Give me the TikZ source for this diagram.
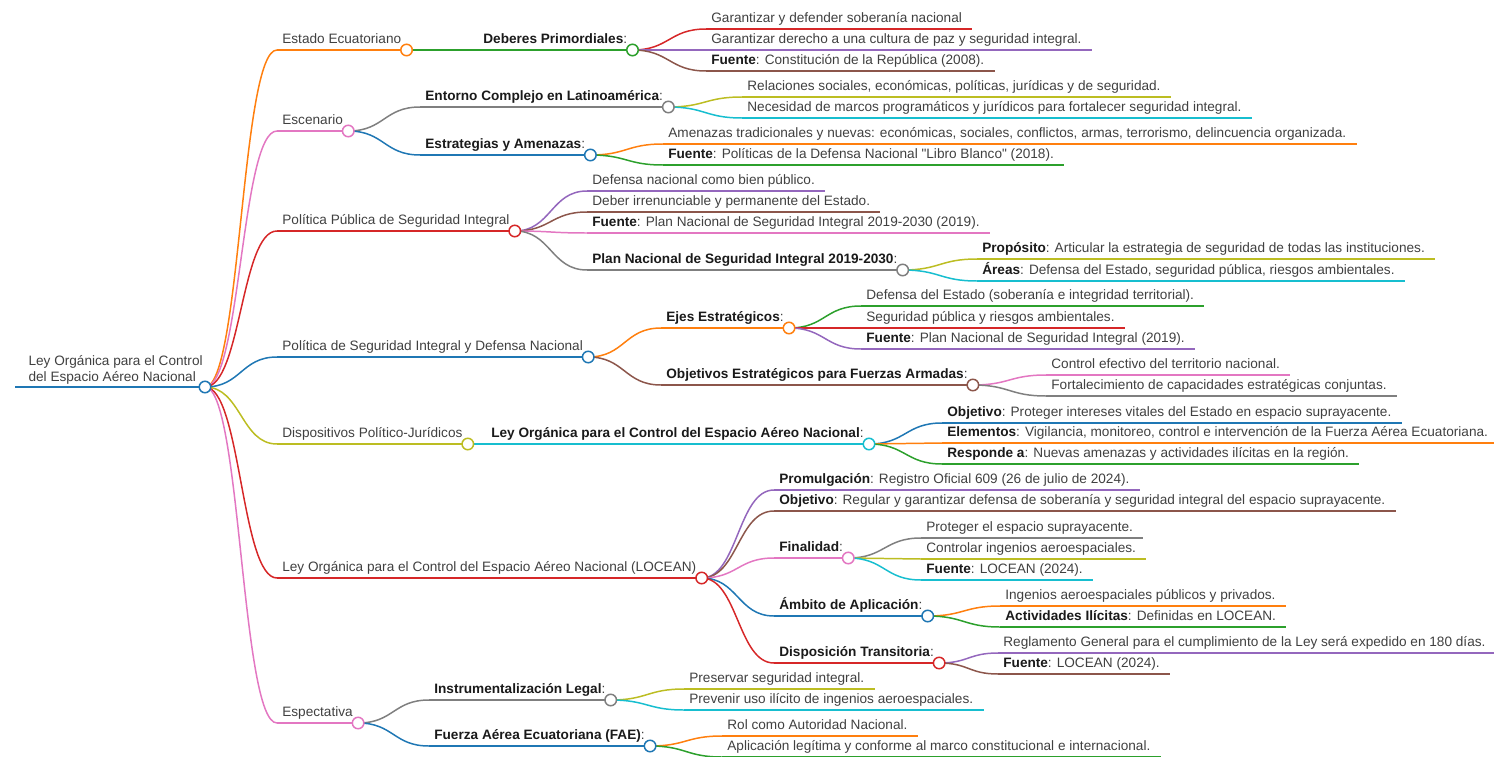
\documentclass[tikz,border=0pt]{standalone}
\usepackage{fontspec}
\setmainfont{Liberation Sans}
\usetikzlibrary{calc}
\definecolor{mmblue}{HTML}{1F77B4}
\definecolor{mmorange}{HTML}{FF7F0E}
\definecolor{mmgreen}{HTML}{2CA02C}
\definecolor{mmred}{HTML}{D62728}
\definecolor{mmpurple}{HTML}{9467BD}
\definecolor{mmbrown}{HTML}{8C564B}
\definecolor{mmpink}{HTML}{E377C2}
\definecolor{mmgray}{HTML}{7F7F7F}
\definecolor{mmolive}{HTML}{BCBD22}
\definecolor{mmcyan}{HTML}{17BECF}
\definecolor{txt}{HTML}{404040}
\definecolor{txtb}{HTML}{1A1A1A}
\newcommand{\mmfont}{\fontsize{7.75pt}{8.8pt}\selectfont}
\newcommand{\hd}[1]{\textcolor{txtb}{\textbf{#1}}}

\begin{document}
\begin{tikzpicture}[x=0.02cm, y=-0.02cm,
  mm/.style={font=\mmfont, text=txt, anchor=south west, inner xsep=0.1cm, inner ysep=0.05cm, text height=6.2pt, text depth=1.8pt},
  lnk/.style={draw=#1, line width=0.85pt},
  br/.style={mm, append after command={(\tikzlastnode.south west) edge[lnk=#1] (\tikzlastnode.south east)}},
  lf/.style={mm, append after command={(\tikzlastnode.south west) edge[lnk=#1] ([xshift=0.1cm]\tikzlastnode.south east)}},
  dot/.style={circle, draw=#1, fill=white, line width=0.85pt, minimum size=0.23cm, inner sep=0pt}]

\useasboundingbox (0,0) rectangle (1494,757);

%Root
\coordinate (rs) at (15,387);
\node[mm, anchor=south east, align=left, text height=, text depth=, inner xsep=0.04cm] (root) at (205,387) {Ley Orgánica para el Control\\del Espacio Aéreo Nacional};
\draw[lnk=mmblue] (rs) -- (root.south east);

%Level 1
\node[br=mmorange] (estado) at (277,50) {Estado Ecuatoriano};
\node[br=mmpink] (escen) at (277,131) {Escenario};
\node[br=mmred] (polpub) at (277,231) {Política Pública de Seguridad Integral};
\node[br=mmblue] (polseg) at (277,357) {Política de Seguridad Integral y Defensa Nacional};
\node[br=mmolive] (dispo) at (277,444) {Dispositivos Político-Jurídicos};
\node[br=mmred] (locean) at (277,578) {Ley Orgánica para el Control del Espacio Aéreo Nacional (LOCEAN)};
\node[br=mmpink] (espect) at (277,723) {Espectativa};

%Level 2
\node[br=mmgreen] (deber) at (478,50) {\hd{Deberes Primordiales}:};
\node[br=mmgray] (entorno) at (420,107) {\hd{Entorno Complejo en Latinoamérica}:};
\node[br=mmblue] (estrat) at (420,155) {\hd{Estrategias y Amenazas}:};
\node[lf=mmpurple] (pp1) at (587,191) {Defensa nacional como bien público.};
\node[lf=mmbrown] (pp2) at (587,212) {Deber irrenunciable y permanente del Estado.};
\node[lf=mmpink] (pp3) at (587,233) {\hd{Fuente}: Plan Nacional de Seguridad Integral 2019-2030 (2019).};
\node[br=mmgray] (plan) at (587,270) {\hd{Plan Nacional de Seguridad Integral 2019-2030}:};
\node[br=mmorange] (ejes) at (661,328) {\hd{Ejes Estratégicos}:};
\node[br=mmbrown] (objff) at (661,385) {\hd{Objetivos Estratégicos para Fuerzas Armadas}:};
\node[br=mmcyan] (ley) at (486,444) {\hd{Ley Orgánica para el Control del Espacio Aéreo Nacional}:};
\node[lf=mmpurple] (prom) at (774,490) {\hd{Promulgación}: Registro Oficial 609 (26 de julio de 2024).};
\node[lf=mmbrown] (objreg) at (774,511) {\hd{Objetivo}: Regular y garantizar defensa de soberanía y seguridad integral del espacio suprayacente.};
\node[br=mmpink] (final) at (774,558) {\hd{Finalidad}:};
\node[br=mmblue] (ambito) at (774,616) {\hd{Ámbito de Aplicación}:};
\node[br=mmred] (transit) at (774,663) {\hd{Disposición Transitoria}:};
\node[br=mmgray] (instr) at (429,700) {\hd{Instrumentalización Legal}:};
\node[br=mmblue] (fae) at (429,746) {\hd{Fuerza Aérea Ecuatoriana (FAE)}:};

%Level 3
\node[lf=mmred] (deb1) at (706,29) {Garantizar y defender soberanía nacional};
\node[lf=mmpurple] (deb2) at (706,50) {Garantizar derecho a una cultura de paz y seguridad integral.};
\node[lf=mmbrown] (deb3) at (706,71) {\hd{Fuente}: Constitución de la República (2008).};
\node[lf=mmolive] (ent1) at (742,97) {Relaciones sociales, económicas, políticas, jurídicas y de seguridad.};
\node[lf=mmcyan] (ent2) at (742,118) {Necesidad de marcos programáticos y jurídicos para fortalecer seguridad integral.};
\node[lf=mmorange] (est1) at (663,144) {Amenazas tradicionales y nuevas: económicas, sociales, conflictos, armas, terrorismo, delincuencia organizada.};
\node[lf=mmgreen] (est2) at (663,165) {\hd{Fuente}: Políticas de la Defensa Nacional \textquotedbl Libro Blanco\textquotedbl{} (2018).};
\node[lf=mmolive] (plan1) at (977,259) {\hd{Propósito}: Articular la estrategia de seguridad de todas las instituciones.};
\node[lf=mmcyan] (plan2) at (977,281) {\hd{Áreas}: Defensa del Estado, seguridad pública, riesgos ambientales.};
\node[lf=mmgreen] (eje1) at (861,306) {Defensa del Estado (soberanía e integridad territorial).};
\node[lf=mmred] (eje2) at (861,328) {Seguridad pública y riesgos ambientales.};
\node[lf=mmpurple] (eje3) at (861,349) {\hd{Fuente}: Plan Nacional de Seguridad Integral (2019).};
\node[lf=mmpink] (obj1) at (1046,375) {Control efectivo del territorio nacional.};
\node[lf=mmgray] (obj2) at (1046,396) {Fortalecimiento de capacidades estratégicas conjuntas.};
\node[lf=mmblue] (ley1) at (942,423) {\hd{Objetivo}: Proteger intereses vitales del Estado en espacio suprayacente.};
\node[lf=mmorange] (ley2) at (942,443) {\hd{Elementos}: Vigilancia, monitoreo, control e intervención de la Fuerza Aérea Ecuatoriana.};
\node[lf=mmgreen] (ley3) at (942,464) {\hd{Responde a}: Nuevas amenazas y actividades ilícitas en la región.};
\node[lf=mmgray] (fin1) at (921,538) {Proteger el espacio suprayacente.};
\node[lf=mmolive] (fin2) at (921,559) {Controlar ingenios aeroespaciales.};
\node[lf=mmcyan] (fin3) at (921,580) {\hd{Fuente}: LOCEAN (2024).};
\node[lf=mmorange] (amb1) at (1000,606) {Ingenios aeroespaciales públicos y privados.};
\node[lf=mmgreen] (amb2) at (1000,627) {\hd{Actividades Ilícitas}: Definidas en LOCEAN.};
\node[lf=mmpurple] (tra1) at (998,653) {Reglamento General para el cumplimiento de la Ley será expedido en 180 días.};
\node[lf=mmbrown] (tra2) at (998,674) {\hd{Fuente}: LOCEAN (2024).};
\node[lf=mmolive] (ins1) at (684,689) {Preservar seguridad integral.};
\node[lf=mmcyan] (ins2) at (684,710) {Prevenir uso ilícito de ingenios aeroespaciales.};
\node[lf=mmorange] (fae1) at (722,736) {Rol como Autoridad Nacional.};
\node[lf=mmgreen] (fae2) at (722,757) {Aplicación legítima y conforme al marco constitucional e internacional.};

%Links
\foreach \pa/\ch/\col in {root/estado/mmorange, root/escen/mmpink, root/polpub/mmred, root/polseg/mmblue, root/dispo/mmolive, root/locean/mmred, root/espect/mmpink,
  estado/deber/mmgreen, escen/entorno/mmgray, escen/estrat/mmblue, polpub/pp1/mmpurple, polpub/pp2/mmbrown, polpub/pp3/mmpink, polpub/plan/mmgray,
  polseg/ejes/mmorange, polseg/objff/mmbrown, dispo/ley/mmcyan, locean/prom/mmpurple, locean/objreg/mmbrown, locean/final/mmpink,
  locean/ambito/mmblue, locean/transit/mmred, espect/instr/mmgray, espect/fae/mmblue,
  deber/deb1/mmred, deber/deb2/mmpurple, deber/deb3/mmbrown, entorno/ent1/mmolive, entorno/ent2/mmcyan, estrat/est1/mmorange, estrat/est2/mmgreen,
  plan/plan1/mmolive, plan/plan2/mmcyan, ejes/eje1/mmgreen, ejes/eje2/mmred, ejes/eje3/mmpurple, objff/obj1/mmpink, objff/obj2/mmgray,
  ley/ley1/mmblue, ley/ley2/mmorange, ley/ley3/mmgreen, final/fin1/mmgray, final/fin2/mmolive, final/fin3/mmcyan,
  ambito/amb1/mmorange, ambito/amb2/mmgreen, transit/tra1/mmpurple, transit/tra2/mmbrown,
  instr/ins1/mmolive, instr/ins2/mmcyan, fae/fae1/mmorange, fae/fae2/mmgreen}
{
\draw[lnk=\col] let \p1=(\pa.south east), \p2=(\ch.south west) in
  (\p1) .. controls ({(\x1+\x2)/2},\y1) and ({(\x1+\x2)/2},\y2) .. (\p2);
}

%Circles
\foreach \n/\col in {root/mmblue, estado/mmorange, escen/mmpink, polpub/mmred, polseg/mmblue, dispo/mmolive, locean/mmred, espect/mmpink,
  deber/mmgreen, entorno/mmgray, estrat/mmblue, plan/mmgray, ejes/mmorange, objff/mmbrown, ley/mmcyan,
  final/mmpink, ambito/mmblue, transit/mmred, instr/mmgray, fae/mmblue}
{
\node[dot=\col] at (\n.south east) {};
}

\end{tikzpicture}
\end{document}
